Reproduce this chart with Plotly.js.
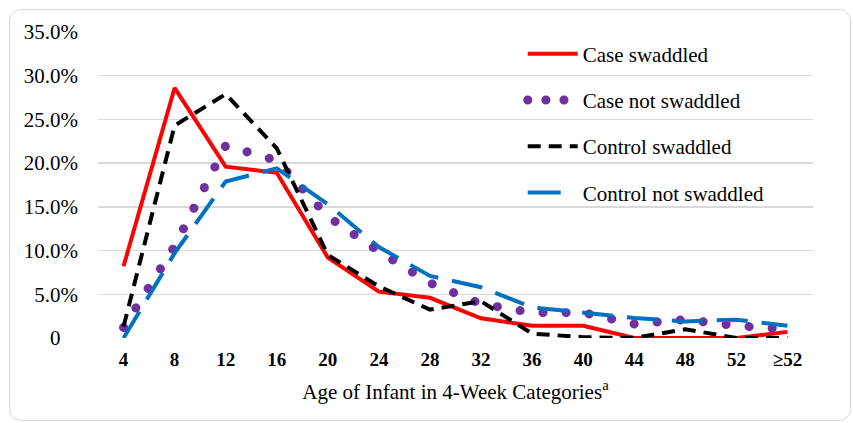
<!DOCTYPE html>
<html>
<head>
<meta charset="utf-8">
<script src="https://cdn.plot.ly/plotly-3.0.1.min.js"></script>
<style>
  html, body { margin: 0; padding: 0; background: #fff; }
  #wrap { position: relative; width: 853px; height: 423px; }
  #chart { width: 853px; height: 423px; }
  #frame { position: absolute; left: 9px; top: 9px; width: 840px; height: 410px;
           border: 1.5px solid #d9d9d9; border-radius: 12px; pointer-events: none; }
</style>
</head>
<body>
<div id="wrap">
  <div id="chart"></div>
  <div id="frame"></div>
</div>
<script>
// Age categories (4-week)
const categories = ["4", "8", "12", "16", "20", "24", "28", "32", "36", "40", "44", "48", "52", "\u226552"];

// Percent of infants in each category
const caseSwaddled      = [8.2, 28.6, 19.6, 18.9, 9.2, 5.3, 4.6, 2.25, 1.4, 1.4, 0.0, 0.0, 0.0, 0.7];
const caseNotSwaddled   = [1.2, 10.5, 22.0, 20.3, 13.9, 9.9, 6.3, 3.9, 2.9, 2.9, 1.6, 2.1, 1.4, 1.0];
const controlSwaddled   = [1.3, 24.3, 27.9, 21.7, 9.5, 5.9, 3.25, 4.2, 0.5, 0.1, 0.0, 1.0, 0.0, 0.0];
const controlNotSwaddled= [0.0, 9.7, 17.9, 19.4, 15.3, 10.4, 7.1, 5.8, 3.5, 2.85, 2.3, 1.9, 2.1, 1.4];

const seriesNames = ["Case swaddled", "Case not swaddled", "Control swaddled", "Control not swaddled"];

const yTickVals = [0, 5, 10, 15, 20, 25, 30, 35];
const yTickText = ["0<span style=\"color:rgba(0,0,0,0)\">%</span>", "5.0%", "10.0%", "15.0%", "20.0%", "25.0%", "30.0%", "35.0%"];

const FONT = "Times New Roman, Liberation Serif, DejaVu Serif, serif";

const traces = [
  { x: categories, y: caseSwaddled, name: seriesNames[0], type: "scatter", mode: "lines",
    line: { color: "#FF0000", width: 4 }, legendgroup: "g1" },
  { x: categories, y: caseNotSwaddled, name: seriesNames[1], type: "scatter", mode: "lines",
    line: { color: "#7030A0", width: 9, dash: "0.1px,23px" }, legendgroup: "g2" },
  { x: categories, y: controlSwaddled, name: seriesNames[2], type: "scatter", mode: "lines",
    line: { color: "#000000", width: 4, dash: "13px,8px" }, legendgroup: "g3" },
  { x: categories, y: controlNotSwaddled, name: seriesNames[3], type: "scatter", mode: "lines",
    line: { color: "#0070C0", width: 4, dash: "31px,14px" }, legendgroup: "g4" }
];

const layout = {
  width: 853, height: 423,
  margin: { l: 98, r: 40, t: 32, b: 85 },
  paper_bgcolor: "#fff", plot_bgcolor: "#fff",
  font: { family: FONT, color: "#000", size: 21 },
  showlegend: true,
  legend: {
    x: 0.594, y: 0.995, xanchor: "left", yanchor: "top",
    bgcolor: "rgba(0,0,0,0)", tracegroupgap: 16,
    font: { family: FONT, size: 21, color: "#000" },
    itemwidth: 50
  },
  xaxis: {
    type: "category", range: [-0.5, 13.5],
    showgrid: false, zeroline: false, showline: false, ticks: "",
    tickfont: { family: FONT, size: 19, color: "#000", weight: "bold" },
    ticklabelstandoff: 8,
    title: { text: "Age of Infant in 4-Week Categories<sup>a</sup>", font: { family: FONT, size: 21, color: "#000" }, standoff: 15 },
    fixedrange: true
  },
  yaxis: {
    range: [0, 35], tickvals: yTickVals, ticktext: yTickText,
    showgrid: true, gridcolor: "#d9d9d9", gridwidth: 1.5,
    zeroline: false, showline: false, ticks: "",
    tickfont: { family: FONT, size: 21, color: "#000" },
    ticklabelstandoff: 19,
    fixedrange: true
  }
};

Plotly.newPlot("chart", traces, layout, { displayModeBar: false, staticPlot: true }).then(function (gd) {
  const t = gd.querySelectorAll(".scatterlayer .trace")[1];
  if (t) t.querySelectorAll("path.js-line").forEach(p => p.style.strokeLinecap = "round");
  const lt = gd.querySelectorAll(".legend .traces");
  if (lt[1]) lt[1].querySelectorAll("path").forEach(p => { p.style.strokeLinecap = "round"; p.style.strokeDasharray = "0.1px,18px"; });
  if (lt[3]) lt[3].querySelectorAll("path").forEach(p => { p.style.strokeDasharray = "33px,40px"; });
});
</script>
</body>
</html>
